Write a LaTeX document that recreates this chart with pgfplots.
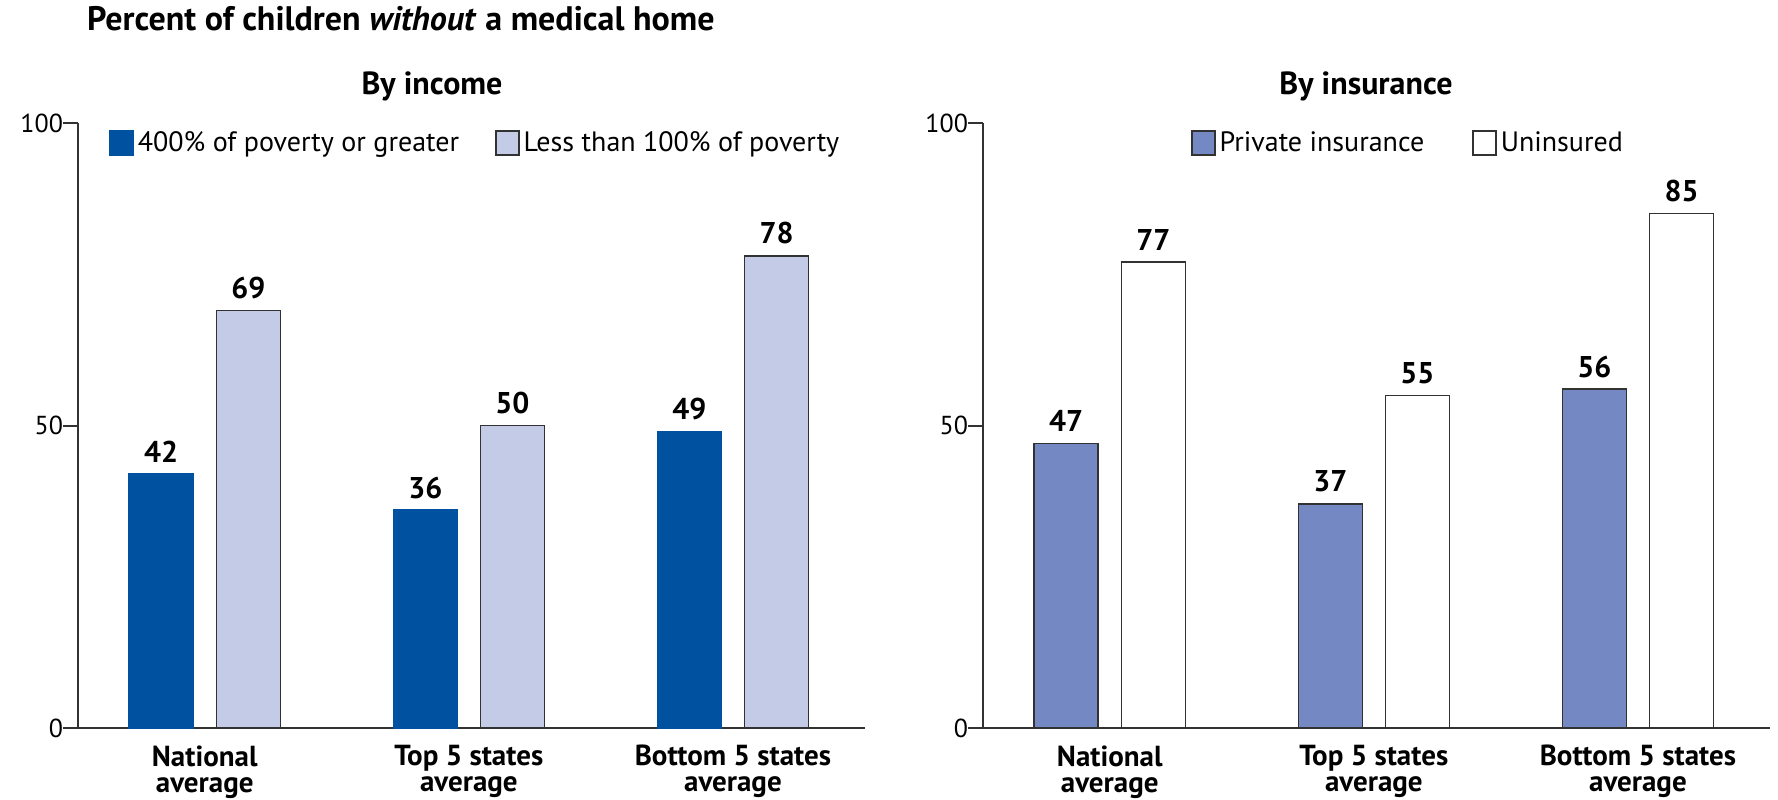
\documentclass[border=0pt]{standalone}
\usepackage{fontspec}
\setmainfont{PT Sans}
\usepackage{pgfplots}
\pgfplotsset{compat=1.18}
\definecolor{dblue}{RGB}{0,82,160}
\definecolor{lblue}{RGB}{196,203,230}
\definecolor{mblue}{RGB}{116,137,196}
\definecolor{axgray}{RGB}{50,50,50}
\pgfplotsset{
  mybars/.style={
    scale only axis, width=393.5pt, height=302.5pt,
    xmin=-0.48, xmax=2.5, ymin=0, ymax=100,
    axis x line*=bottom, axis y line*=left,
    axis line style={draw=axgray, line width=1pt},
    clip=false,
    /pgf/number format/assume math mode=true,
    xtick={0,1,2},
    xticklabels={{National\\average},{Top 5 states\\average},{Bottom 5 states\\average}},
    xticklabel style={align=center, font=\fontsize{14.5}{13}\selectfont\bfseries, inner sep=0pt, yshift=-1pt},
    major x tick style={draw=none},
    ytick={0,50,100},
    tick align=outside,
    major tick length=7.5pt,
    ytick style={draw=axgray, line width=1pt},
    yticklabel style={font=\fontsize{13}{15}\selectfont, xshift=3.5pt},
    ybar, bar width=0.2424,
    nodes near coords,
    nodes near coords style={font=\fontsize{15}{17}\selectfont\bfseries, inner sep=2pt, yshift=3.5pt},
    legend columns=2,
    legend cell align=left,
    legend image code/.code={\draw[#1, line width=0.75pt] (0pt,-6pt) rectangle (11.5pt,6pt);},
    legend style={draw=none, fill=none, inner sep=0pt, anchor=west,
      font=\fontsize{14}{16}\selectfont},
  }
}
\begin{document}
\begin{tikzpicture}
\useasboundingbox (0,0) rectangle (889pt,399.5pt);
\node[anchor=base west, font=\fontsize{17}{19}\selectfont\bfseries] at (40pt,384pt) {Percent of children \textit{without} a medical home};
\node[anchor=base, font=\fontsize{16}{18}\selectfont\bfseries] at (216pt,352pt) {By income};
\node[anchor=base, font=\fontsize{16}{18}\selectfont\bfseries] at (683pt,352pt) {By insurance};
\begin{axis}[mybars, at={(39pt,35.5pt)}, anchor=south west,
  legend style={at={(0.0394,0.967)}, /tikz/every even column/.append style={column sep=16pt}}]
\addplot[fill=dblue, draw=dblue, line width=0.75pt, bar shift=-0.165] coordinates {(0,42) (1,36) (2,49)};
\addplot[fill=lblue, draw=axgray, line width=0.75pt, bar shift=0.165] coordinates {(0,69) (1,50) (2,78)};
\legend{400\% of poverty or greater, Less than 100\% of poverty}
\end{axis}
\begin{axis}[mybars, at={(491.5pt,35.5pt)}, anchor=south west,
  legend style={at={(0.264,0.967)}, /tikz/every even column/.append style={column sep=22pt}}]
\addplot[fill=mblue, draw=axgray, line width=0.75pt, bar shift=-0.165] coordinates {(0,47) (1,37) (2,56)};
\addplot[fill=white, draw=axgray, line width=0.75pt, bar shift=0.165] coordinates {(0,77) (1,55) (2,85)};
\legend{Private insurance, Uninsured}
\end{axis}
\end{tikzpicture}
\end{document}
